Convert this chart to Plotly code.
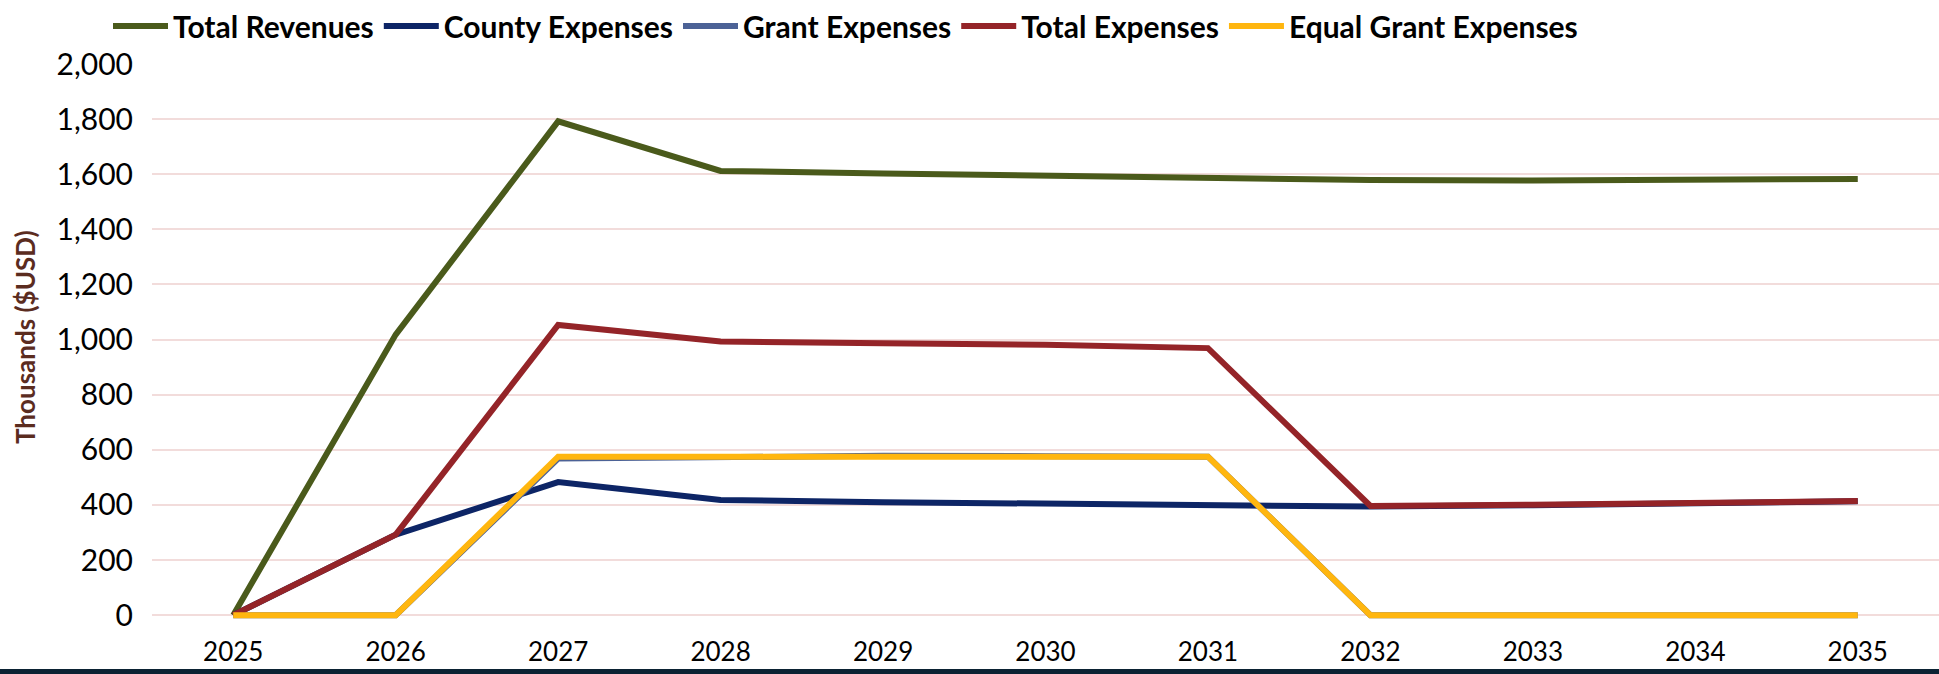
import plotly.graph_objects as go

years = [2025, 2026, 2027, 2028, 2029, 2030, 2031, 2032, 2033, 2034, 2035]
total_revenues = [0, 1018, 1792, 1612, 1603, 1594, 1585, 1579, 1577, 1579, 1583]
county_expenses = [0, 292, 483, 418, 410, 404, 396, 394, 399, 405, 413]
grant_expenses = [0, 0, 568, 575, 578, 577, 575, 0, 0, 0, 0]
total_expenses = [0, 292, 1053, 993, 987, 981, 969, 396, 401, 407, 414]
equal_grant_expenses = [0, 0, 575, 575, 575, 575, 575, 0, 0, 0, 0]

series = [
    ("Total Revenues", total_revenues, "#4A5A1B"),
    ("County Expenses", county_expenses, "#0D2566"),
    ("Grant Expenses", grant_expenses, "#4C6296"),
    ("Total Expenses", total_expenses, "#942428"),
    ("Equal Grant Expenses", equal_grant_expenses, "#FFB60F"),
]

fig = go.Figure()
for name, vals, color in series:
    fig.add_trace(go.Scatter(
        x=years, y=vals, name=name, mode="lines",
        line=dict(color=color, width=6),
    ))

W, H = 1939, 674
L, R, T = 152, 0, 64
ZERO_PX = 615           # pixel row of the zero gridline
Y_LO = -14              # small pad below zero so the zero lines are not clipped
px_per_unit = (ZERO_PX - T) / 2000.0
B = H - ZERO_PX - int(round(-Y_LO * px_per_unit))
plot_w = W - L - R
plot_h = H - T - B

def ypix_to_paper(yp):
    return (H - B - yp) / plot_h

fig.update_layout(
    width=W, height=H,
    margin=dict(l=L, r=R, t=T, b=B),
    paper_bgcolor="white", plot_bgcolor="white",
    font=dict(family="Lato", size=29, color="#000000"),
    showlegend=True,
    legend=dict(
        orientation="h",
        x=(108 - L) / plot_w, xanchor="left",
        y=ypix_to_paper(0), yanchor="top",
        font=dict(family="Lato", size=30, color="#000000", weight="bold"),
        itemwidth=55,
        bgcolor="rgba(0,0,0,0)",
        traceorder="normal",
    ),
    xaxis=dict(
        range=[2024.5, 2035.5],
        tickmode="array", tickvals=years, ticktext=[str(y) for y in years],
        showgrid=False, zeroline=False, showline=False,
        ticks="", ticklabelstandoff=15,
        tickfont=dict(family="Lato", size=26, color="#000000"),
        fixedrange=True,
    ),
    yaxis=dict(
        range=[Y_LO, 2000],
        tickmode="array", tickvals=list(range(0, 2001, 200)),
        tickformat=",d",
        showgrid=True, gridcolor="#F2DCDB", gridwidth=2,
        zeroline=False, showline=False,
        ticks="", ticklabelstandoff=18,
        tickfont=dict(family="Lato", size=30, color="#000000"),
        fixedrange=True,
    ),
    annotations=[dict(
        text="<b>Thousands ($USD)</b>",
        xref="paper", yref="paper",
        x=(25 - L) / plot_w, y=ypix_to_paper(337),
        xanchor="center", yanchor="middle",
        textangle=-90, showarrow=False,
        font=dict(family="Lato", size=26, color="#5B2C1F"),
    )],
    shapes=[dict(
        type="rect", xref="paper", yref="paper",
        x0=-0.2, x1=1.2,
        y0=ypix_to_paper(H + 10),
        y1=ypix_to_paper(669),
        fillcolor="#0B2233", line=dict(width=0), layer="above",
    )],
)

fig.write_html(
    "out.html",
    config={"displayModeBar": False},
    post_script="document.body.style.margin='0';document.body.style.overflow='hidden';",
)
